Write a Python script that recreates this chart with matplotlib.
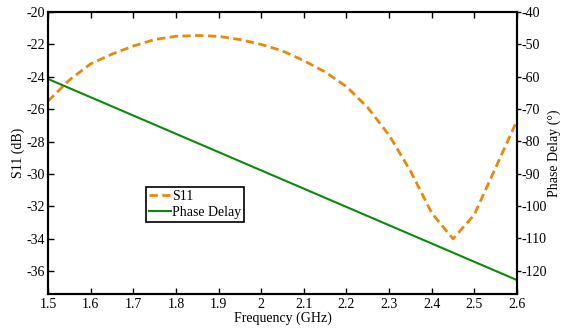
import numpy as np
import matplotlib
matplotlib.use("Agg")
import matplotlib.pyplot as plt

plt.rcParams['font.family'] = ['Liberation Serif', 'DejaVu Serif']
plt.rcParams['font.size'] = 10
plt.rcParams['axes.unicode_minus'] = False

# frequency points (GHz)
freq = [1.5, 1.55, 1.6, 1.65, 1.7, 1.75, 1.8, 1.85, 1.9, 1.95, 2.0, 2.05,
        2.1, 2.15, 2.2, 2.25, 2.3, 2.35, 2.4, 2.45, 2.5, 2.55, 2.6]
s11 = [-25.5, -24.2, -23.2, -22.6, -22.1, -21.7, -21.5, -21.45, -21.5, -21.7,
       -22.0, -22.4, -23.0, -23.7, -24.6, -25.9, -27.6, -29.8, -32.4, -34.0,
       -32.5, -29.6, -26.7]
phase_freq = [1.5, 2.6]
phase_delay = [-60.7, -122.9]

fig = plt.figure(figsize=(5.61, 3.30), dpi=100)
ax = fig.add_axes([48 / 561, 1 - 294 / 330, 469 / 561, 282 / 330])
ax2 = ax.twinx()

l1, = ax.plot(freq, s11, color='#E8890C', lw=2, ls=(0, (3, 1.6)), label='S11')
l2, = ax2.plot(phase_freq, phase_delay, color='#0A8A0A', lw=1.5, label='Phase Delay')

ax.set_xlim(1.5, 2.6)
ax.set_ylim(-37.4, -20)
ax2.set_ylim(-127.2, -40)
ax.set_xticks(np.arange(1.5, 2.61, 0.1))
ax.set_xticklabels(['1.5', '1.6', '1.7', '1.8', '1.9', '2', '2.1', '2.2',
                    '2.3', '2.4', '2.5', '2.6'])
ax.set_yticks(np.arange(-36, -19, 2))
ax2.set_yticks(np.arange(-120, -39, 10))

ax.tick_params(axis='x', direction='in', top=True, length=4, width=1, pad=3)
ax.tick_params(axis='y', direction='in', length=4, width=1, pad=2)
ax2.tick_params(axis='y', direction='out', length=3, width=1, pad=0.5)

for a in (ax, ax2):
    for s in a.spines.values():
        s.set_linewidth(1.5)

ax.set_xlabel('Frequency (GHz)', labelpad=0)
ax.set_ylabel('S11 (dB)', labelpad=1)
ax2.set_ylabel('Phase Delay (°)', labelpad=0)

leg = ax.legend([l1, l2], ['S11', 'Phase Delay'], loc='upper left',
                bbox_to_anchor=(0.209, 0.378), frameon=True, fancybox=False,
                edgecolor='black', framealpha=1, handlelength=1.6,
                handletextpad=0.1, borderpad=0.2, borderaxespad=0,
                labelspacing=0.2)
leg.get_frame().set_linewidth(1.2)

fig.savefig('out.png', dpi=100)
